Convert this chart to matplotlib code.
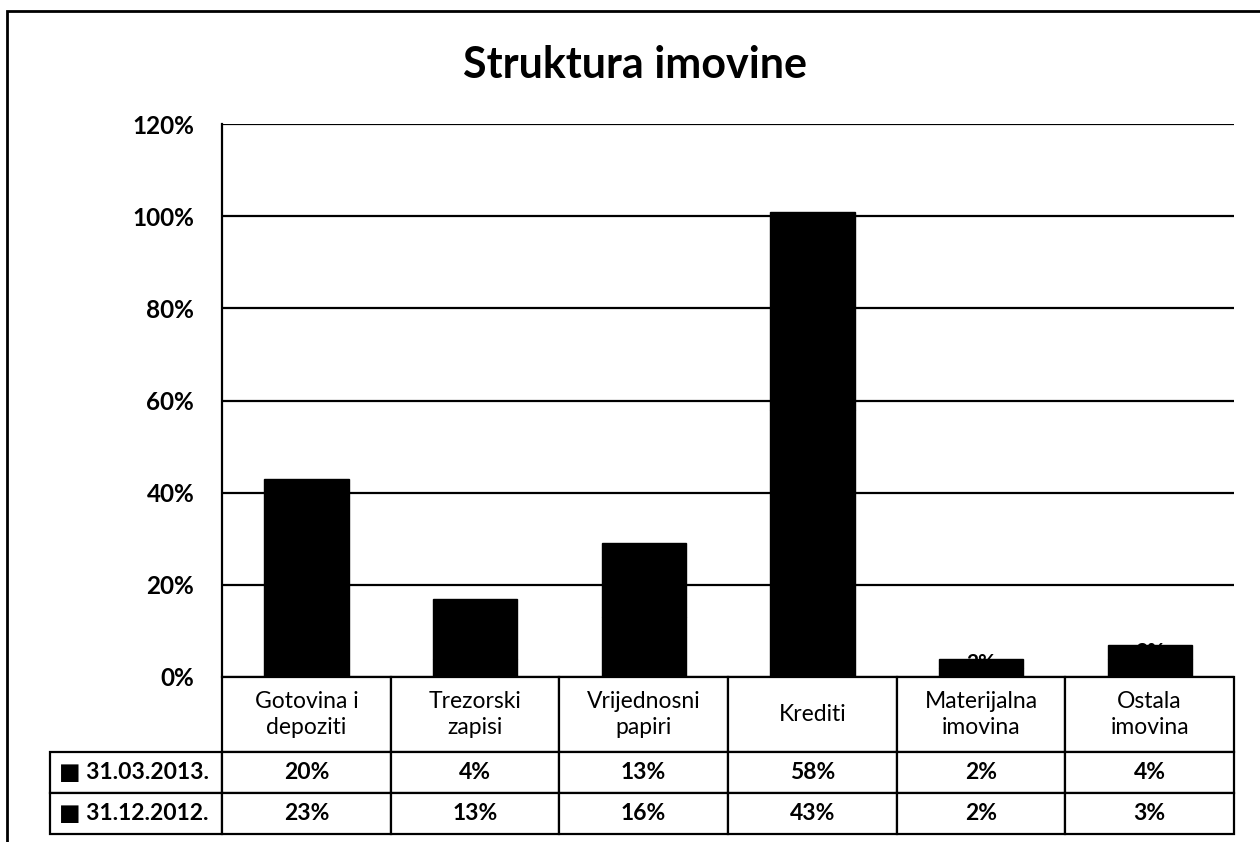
import matplotlib
matplotlib.use("Agg")
import matplotlib.pyplot as plt
from matplotlib.patches import Rectangle
from matplotlib.table import Table
from matplotlib.ticker import FuncFormatter

# -----------------------------
# data
# -----------------------------

categories = ["Gotovina i\ndepoziti", "Trezorski\nzapisi", "Vrijednosni\npapiri",
              "Krediti", "Materijalna\nimovina", "Ostala\nimovina"]
series_names = ["31.03.2013.", "31.12.2012."]
mar_2013 = [20, 4, 13, 58, 2, 4]
dec_2012 = [23, 13, 16, 43, 2, 3]
y_ticks = [0, 20, 40, 60, 80, 100, 120]

FONT = ["Lato", "DejaVu Sans"]
plt.rcParams["font.family"] = FONT

# -----------------------------
# figure / axes
# -----------------------------

W, H = 1260, 842
fig = plt.figure(figsize=(12.6, 8.42), dpi=100)

ax_l, ax_r, ax_t, ax_b = 222, 1234, 124, 677
axw, axh = ax_r - ax_l, ax_b - ax_t
ax = fig.add_axes([ax_l / W, 1 - ax_b / H, axw / W, axh / H])

# outer chart frame
fig.patches.append(Rectangle((7 / W, -0.05), 1.2, 1 - 11 / H + 0.05,
                             transform=fig.transFigure, fill=False,
                             edgecolor="black", linewidth=2))

x = range(len(categories))
b1 = ax.bar(x, mar_2013, width=0.5, color="black", edgecolor="black", zorder=3)
b2 = ax.bar(x, dec_2012, width=0.5, bottom=mar_2013, color="black",
            edgecolor="black", zorder=3)
for cont, vals in ((b1, mar_2013), (b2, dec_2012)):
    ax.bar_label(cont, labels=[f"{v}%" for v in vals], label_type="center",
                 color="black", fontsize=15, fontweight="bold", zorder=4)

ax.set_xlim(-0.5, len(categories) - 0.5)
ax.set_ylim(0, 120)
ax.set_yticks(y_ticks)
ax.yaxis.set_major_formatter(FuncFormatter(lambda v, p: f"{int(v)}%"))
ax.tick_params(axis="y", length=0, pad=20, labelsize=17.5)
for t in ax.get_yticklabels():
    t.set_fontweight("bold")
ax.set_xticks([])
ax.grid(axis="y", color="black", linewidth=1.6, zorder=0)
for s in ("top", "right", "bottom"):
    ax.spines[s].set_visible(False)
ax.spines["left"].set_linewidth(1.6)

# -----------------------------
# data table (sizes in axes fractions)
# -----------------------------

lab_w = 172 / axw
col_w = 1 / len(categories)
head_h, row_h = 75 / axh, 41 / axh
tab_h = head_h + 2 * row_h

tbl = Table(ax, bbox=[0, -tab_h, 1, tab_h])
for j, cat in enumerate(categories):
    c = tbl.add_cell(0, j, width=col_w, height=head_h, text=cat, loc="center")
    c.get_text().set_linespacing(1.35)
for i, (name, vals) in enumerate(zip(series_names, [mar_2013, dec_2012])):
    c = tbl.add_cell(i + 1, -1, width=lab_w, height=row_h, text="■ " + name, loc="left")
    c.PAD = 0.05
    c.get_text().set_fontweight("bold")
    for j, v in enumerate(vals):
        c = tbl.add_cell(i + 1, j, width=col_w, height=row_h, text=f"{v}%", loc="center")
        c.get_text().set_fontweight("bold")
tbl.auto_set_font_size(False)
for cell in tbl.get_celld().values():
    cell.set_linewidth(1.6)
    cell.get_text().set_fontsize(16.5)
    cell.get_text().set_fontfamily(FONT)
ax.add_table(tbl)

fig.text(635 / W, 1 - 65 / H, "Struktura imovine", ha="center", va="center",
         fontsize=31, fontweight="bold")

fig.savefig("out.png", dpi=100)
